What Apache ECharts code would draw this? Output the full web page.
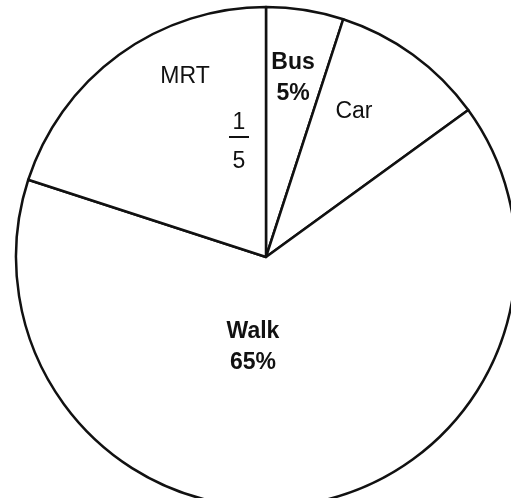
<!DOCTYPE html>
<html><head><meta charset="utf-8">
<script src="https://cdn.jsdelivr.net/npm/echarts@6/dist/echarts.min.js"></script>
<style>html,body{margin:0;padding:0;background:#fff}#c{width:511px;height:498px}</style>
</head><body><div id="c"></div>
<script>
const categories = ['Bus', 'Car', 'Walk', 'MRT'];
const shares = [5, 10, 65, 20];
const shareLabels = ['5%', '', '65%', ''];
const fractionNum = ['', '', '', '1'];
const fractionDen = ['', '', '', '5'];

// label anchor positions (styling, not data)
const labelPos = [[293, 78], [354, 112], [253, 347], [185, 77]];
const fracPos = [[0, 0], [0, 0], [0, 0], [239, 148]];
const boldSet = [true, false, true, false];

const FONT = 'Liberation Sans, Arial, sans-serif';
const chart = echarts.init(document.getElementById('c'), null, {renderer: 'canvas'});
const mainData = categories.map((n, i) => ({name: n, value: shares[i]}));

chart.setOption({
  animation: false,
  backgroundColor: '#ffffff',
  series: [
    {
      type: 'pie',
      center: [266, 257],
      radius: [0, 250],
      startAngle: 90,
      clockwise: true,
      silent: true,
      data: mainData,
      itemStyle: {color: '#ffffff', borderColor: '#111111', borderWidth: 2.5},
      labelLine: {show: false},
      label: {
        show: true,
        position: 'inside',
        fontFamily: FONT,
        fontSize: 23,
        color: '#111111',
        lineHeight: 31,
        formatter: p => {
          const i = p.dataIndex;
          const st = boldSet[i] ? 'b' : 'n';
          return shareLabels[i] ? `{${st}|${categories[i]}}\n{${st}|${shareLabels[i]}}` : `{${st}|${categories[i]}}`;
        },
        rich: {
          b: {fontWeight: 'bold', fontSize: 23, lineHeight: 31, color: '#111', fontFamily: FONT},
          n: {fontWeight: 'normal', fontSize: 23, lineHeight: 31, color: '#111', fontFamily: FONT}
        }
      },
      labelLayout: p => ({x: labelPos[p.dataIndex][0], y: labelPos[p.dataIndex][1], align: 'center', verticalAlign: 'middle'})
    },
    {
      type: 'pie',
      center: [266, 257],
      radius: [0, 250],
      startAngle: 90,
      clockwise: true,
      silent: true,
      z: 5,
      data: mainData,
      itemStyle: {color: 'rgba(0,0,0,0)', borderWidth: 0},
      labelLine: {show: false},
      label: {
        show: true,
        position: 'inside',
        formatter: p => fractionNum[p.dataIndex] ? `{t|${fractionNum[p.dataIndex]}}\n{l|\u00a0}\n{d|${fractionDen[p.dataIndex]}}` : '',
        rich: {
          t: {fontSize: 23, lineHeight: 22, color: '#111', fontFamily: FONT},
          l: {fontSize: 6, lineHeight: 6, width: 20, height: 2, backgroundColor: '#111'},
          d: {fontSize: 23, lineHeight: 44, color: '#111', fontFamily: FONT}
        }
      },
      labelLayout: p => ({x: fracPos[p.dataIndex][0], y: fracPos[p.dataIndex][1], align: 'center', verticalAlign: 'middle'})
    }
  ]
});
</script>
</body></html>
